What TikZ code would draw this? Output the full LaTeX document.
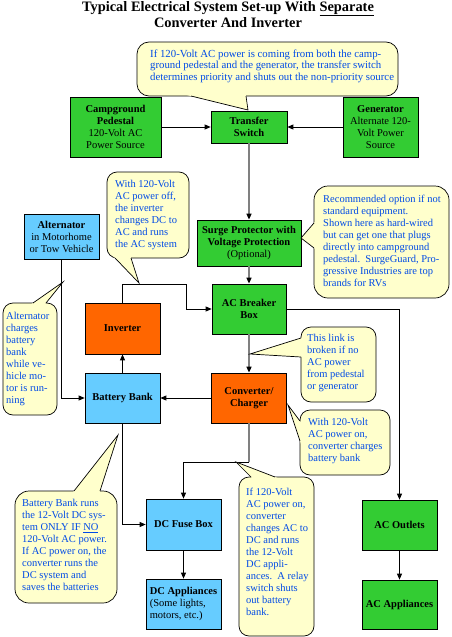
\documentclass[tikz,border=0pt]{standalone}
\usepackage{fontspec}
\setmainfont{Liberation Serif}
\usetikzlibrary{arrows.meta,calc}
\definecolor{boxgreen}{RGB}{51,204,51}
\definecolor{boxblue}{RGB}{102,204,255}
\definecolor{boxorange}{RGB}{255,102,0}
\definecolor{cyellow}{RGB}{255,255,204}
\definecolor{ctext}{RGB}{0,75,230}
\definecolor{wiregray}{RGB}{128,128,128}
\newcommand\calltail[3]{%
  \fill[cyellow] (#1) -- ($(#1)!1.15!(#2)$) -- ($(#1)!1.15!(#3)$) -- cycle;
  \draw[line width=0.7pt] (#2) -- (#1) -- (#3);}
\begin{document}
\begin{tikzpicture}[x=1pt,y=-1pt,
  every node/.style={font=\fontsize{10.5}{12}\selectfont},
  sz/.style 2 args={minimum width=#1pt,minimum height=#2pt},
  box/.style={draw=black,line width=0.7pt,inner sep=1pt,align=center},
  gbox/.style={box,fill=boxgreen},
  bbox/.style={box,fill=boxblue},
  obox/.style={box,fill=boxorange},
  wire/.style={draw=black,line width=0.8pt,-{Triangle[length=6pt,width=5pt]}},
  gwire/.style={draw=wiregray,line width=1.4pt,-{Triangle[length=6pt,width=5pt,color=black]}},
  cbody/.style={draw=black,line width=0.7pt,fill=cyellow},
  ctxt/.style={anchor=north west,inner sep=0pt,align=left,text=ctext},
  titletxt/.style={anchor=base,inner sep=0pt,font=\bfseries\fontsize{14.4}{17}\selectfont}
]
\useasboundingbox (0,0) rectangle (452,637);

% title
\node[titletxt] (title1) at (228,11) {Typical Electrical System Set-up With \underline{Separate}};
\node[titletxt] (title2) at (228,27.5) {Converter And Inverter};

% boxes
\node[gbox,sz={91}{60}] (camp) at (115.5,127) {\textbf{Campground}\\\textbf{Pedestal}\\120-Volt AC\\Power Source};
\node[gbox,sz={76}{32}] (transfer) at (249,127) {\textbf{Transfer}\\\textbf{Switch}};
\node[gbox,sz={75}{60}] (gen) at (380.5,127) {\textbf{Generator}\\Alternate 120-\\Volt Power\\Source};
\node[gbox,sz={104}{46}] (surge) at (249,243) {\textbf{Surge Protector with}\\\textbf{Voltage Protection}\\(Optional)};
\node[gbox,sz={74}{50}] (breaker) at (249,309) {\textbf{AC Breaker}\\\textbf{Box}};
\node[bbox,sz={75}{45}] (alt) at (61.5,236.5) {\textbf{Alternator}\\in Motorhome\\or Tow Vehicle};
\node[obox,sz={75}{51}] (inverter) at (122.5,328.5) {\textbf{Inverter}};
\node[bbox,sz={75}{50}] (battery) at (122.5,398) {\textbf{Battery Bank}};
\node[obox,sz={75}{50}] (converter) at (249,398) {\textbf{Converter/}\\\textbf{Charger}};
\node[bbox,sz={75}{51}] (fuse) at (183.5,524.5) {\textbf{DC Fuse Box}};
\node[bbox,sz={75}{50},align=left] (dcapp) at (183.5,604) {\textbf{DC Appliances}\\(Some lights,\\motors, etc.)};
\node[gbox,sz={75}{50}] (outlets) at (399.5,525) {\textbf{AC Outlets}};
\node[gbox,sz={75}{49}] (acapp) at (399.5,604.5) {\textbf{AC Appliances}};

% junctions
\coordinate (j1) at (186,284);
\coordinate (j3) at (249,462);

% wires
\draw[wire] (camp.east) -- (transfer.west);
\draw[wire] (gen.west) -- (transfer.east);
\draw[gwire] (transfer.south) -- (surge.north);
\draw[gwire] (surge.south) -- (breaker.north);
\draw[gwire] (breaker.south) -- (converter.north);
\draw[wire] (breaker.east) -| (outlets.north);
\draw[wire] (inverter.north) |- (j1) |- (breaker.west);
\draw[wire] (battery.north) -- (inverter.south);
\draw[wire] (alt.south) |- (battery.west);
\draw[wire] (converter.west) -- (battery.east);
\draw[draw=wiregray,line width=1.4pt] (converter.south) -- (j3);
\draw[wire] (j3) -| (fuse.north);
\draw[wire] (battery.south) |- (fuse.west);
\draw[wire] (fuse.south) -- (dcapp.north);
\draw[wire] (outlets.south) -- (acapp.north);

% callouts
\draw[cbody,rounded corners=12pt] (137,42) rectangle (398,96);
\calltail{248,110}{191,96}{246,96}
\node[ctxt,font=\fontsize{10.8}{11.6}\selectfont] (noteA) at (150,49.5) {If 120-Volt AC power is coming from both the camp-\\ground pedestal and the generator, the transfer switch\\determines priority and shuts out the non-priority source};

\draw[cbody,rounded corners=10pt] (107,172) rectangle (189,258);
\calltail{139,283}{115,258}{131,258}
\node[ctxt] (noteB) at (115,180.5) {With 120-Volt\\AC power off,\\the inverter\\changes DC to\\AC and runs\\the AC system};

\draw[cbody,rounded corners=14pt] (314,186) rectangle (449,298);
\calltail{301,238}{314,223}{314,248}
\node[ctxt] (noteC) at (323,194.5) {Recommended option if not\\standard equipment.\\Shown here as hard-wired\\but can get one that plugs\\directly into campground\\pedestal.\ \ SurgeGuard, Pro-\\gressive Industries are top\\brands for RVs};

\draw[cbody,rounded corners=10pt] (301,327) rectangle (376,402);
\calltail{250,354}{301,338}{301,357}
\node[ctxt] (noteD) at (307,334.5) {This link is\\broken if no\\AC power\\from pedestal\\or generator};

\draw[cbody,rounded corners=10pt] (300,410) rectangle (390,475);
\calltail{288,405}{300,421}{300,441}
\node[ctxt] (noteE) at (308,418.5) {With 120-Volt\\AC power on,\\converter charges\\battery bank};

\draw[cbody,rounded corners=10pt] (239,477) rectangle (314,636);
\calltail{236,462}{251,477}{275,477}
\node[ctxt] (noteF) at (246,487.5) {If 120-Volt\\AC power on,\\converter\\changes AC to\\DC and runs\\the 12-Volt\\DC appli-\\ances.\ \ A relay\\switch shuts\\out battery\\bank.};

\draw[cbody,rounded corners=10pt] (3,303) rectangle (57,415);
\calltail{63,282}{33,303}{46,303}
\node[ctxt] (noteG) at (6,312.5) {Alternator\\charges\\battery\\bank\\while ve-\\hicle mo-\\tor is run-\\ning};

\draw[cbody,rounded corners=14pt] (15,491) rectangle (117,603);
\calltail{118,435}{74,491}{100,491}
\node[ctxt] (noteH) at (22,499.5) {Battery Bank runs\\the 12-Volt DC sys-\\tem ONLY IF \underline{NO}\\120-Volt AC power.\\If AC power on, the\\converter runs the\\DC system and\\saves the batteries};
\end{tikzpicture}
\end{document}
